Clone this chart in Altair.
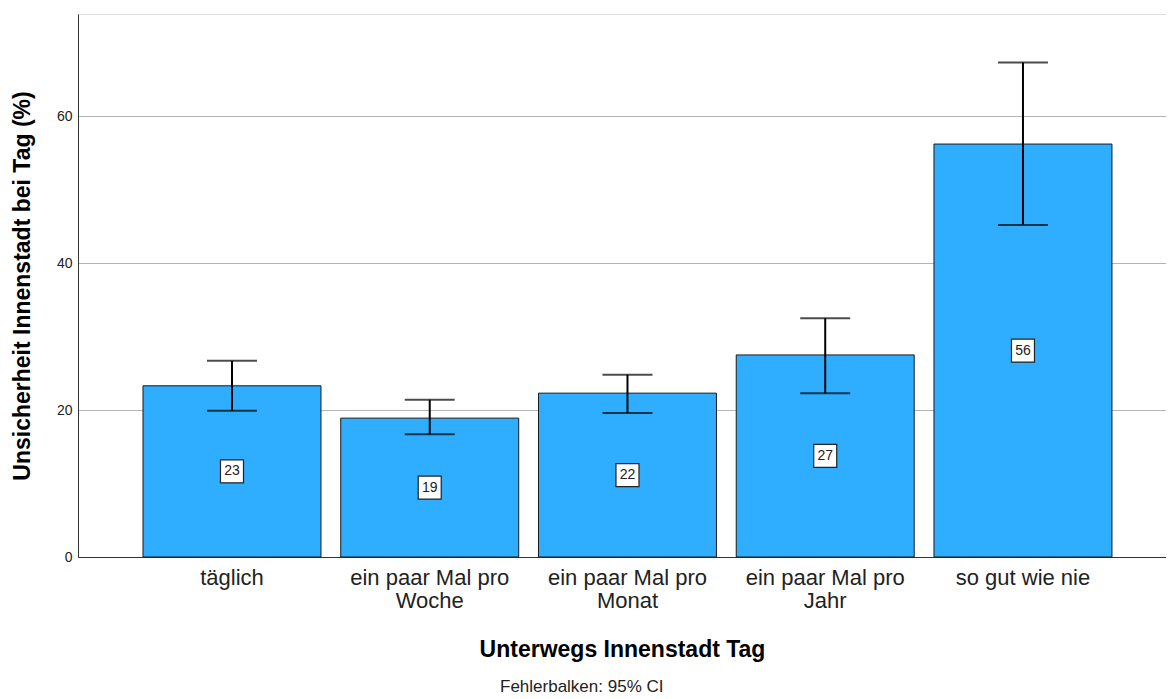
import altair as alt
import pandas as pd

categories = ["täglich", "ein paar Mal pro Woche", "ein paar Mal pro Monat", "ein paar Mal pro Jahr", "so gut wie nie"]
values = [23.3, 18.9, 22.3, 27.5, 56.2]
ci_low = [19.9, 16.7, 19.6, 22.3, 45.2]
ci_high = [26.7, 21.4, 24.8, 32.5, 67.3]
labels = ["23", "19", "22", "27", "56"]

df = pd.DataFrame({
    "cat": categories,
    "val": values,
    "lo": ci_low,
    "hi": ci_high,
    "lab": labels,
})
df["mid"] = df["val"] / 2

FONT = "Liberation Sans"

x_enc = alt.X(
    "cat:N",
    sort=categories,
    scale=alt.Scale(paddingInner=0.1, paddingOuter=0.301, align=0.546),
    axis=alt.Axis(
        title="Unterwegs Innenstadt Tag",
        titleFont=FONT, titleFontSize=23, titleFontWeight="bold", titleColor="#000000",
        titlePadding=27,
        labelFont=FONT, labelFontSize=22, labelColor="#222222",
        labelAngle=0, labelLimit=0, labelPadding=10, labelLineHeight=23,
        labelExpr="indexof(datum.label, 'pro ') >= 0 ? [substring(datum.label, 0, indexof(datum.label, 'pro ') + 3), substring(datum.label, indexof(datum.label, 'pro ') + 4)] : datum.label",
        ticks=False, domainColor="#333333", domainWidth=1, grid=False,
    ),
)

y_scale = alt.Scale(domain=[0, 73.9], nice=False)

bars = alt.Chart(df).mark_bar(color="#2FAEFF", stroke="#1a1a1a", strokeWidth=1).encode(
    x=x_enc,
    y=alt.Y(
        "val:Q",
        scale=y_scale,
        axis=alt.Axis(
            title="Unsicherheit Innenstadt bei Tag (%)",
            titleFont=FONT, titleFontSize=23, titleFontWeight="bold", titleColor="#000000",
            titlePadding=22,
            labelFont=FONT, labelFontSize=14, labelColor="#222222", labelPadding=6,
            values=[0, 20, 40, 60], ticks=False,
            domainColor="#333333", domainWidth=1,
            grid=True, gridColor="#b4b4b4", gridWidth=1,
        ),
    ),
)

rules = alt.Chart(df).mark_rule(color="#000000", strokeWidth=2).encode(
    x=alt.X("cat:N", sort=categories),
    y=alt.Y("lo:Q", scale=y_scale),
    y2="hi:Q",
)

caps_hi = alt.Chart(df).mark_tick(color="#000000", size=50, thickness=2).encode(
    x=alt.X("cat:N", sort=categories),
    y=alt.Y("hi:Q", scale=y_scale),
)
caps_lo = alt.Chart(df).mark_tick(color="#000000", size=50, thickness=2).encode(
    x=alt.X("cat:N", sort=categories),
    y=alt.Y("lo:Q", scale=y_scale),
)

boxes = alt.Chart(df).mark_square(size=529, fill="#ffffff", stroke="#222222", strokeWidth=1.2, opacity=1).encode(
    x=alt.X("cat:N", sort=categories),
    y=alt.Y("mid:Q", scale=y_scale),
)

texts = alt.Chart(df).mark_text(font=FONT, fontSize=14, color="#222222", baseline="middle", align="center").encode(
    x=alt.X("cat:N", sort=categories),
    y=alt.Y("mid:Q", scale=y_scale),
    text="lab:N",
)

note = alt.Chart(pd.DataFrame({"t": ["Fehlerbalken: 95% CI"]})).mark_text(
    font=FONT, fontSize=17, color="#222222", align="left", baseline="middle"
).encode(x=alt.value(422), y=alt.value(673), text="t:N")

chart = alt.layer(bars, rules, caps_hi, caps_lo, boxes, texts, note).properties(
    width=1088,
    height=543,
    autosize=alt.AutoSizeParams(type="none"),
    padding={"left": 70, "top": 6, "right": 0, "bottom": 148},
).configure_view(stroke=None).configure(background="#ffffff")

chart.save("out.html", embed_options={"renderer": "svg", "actions": False})
